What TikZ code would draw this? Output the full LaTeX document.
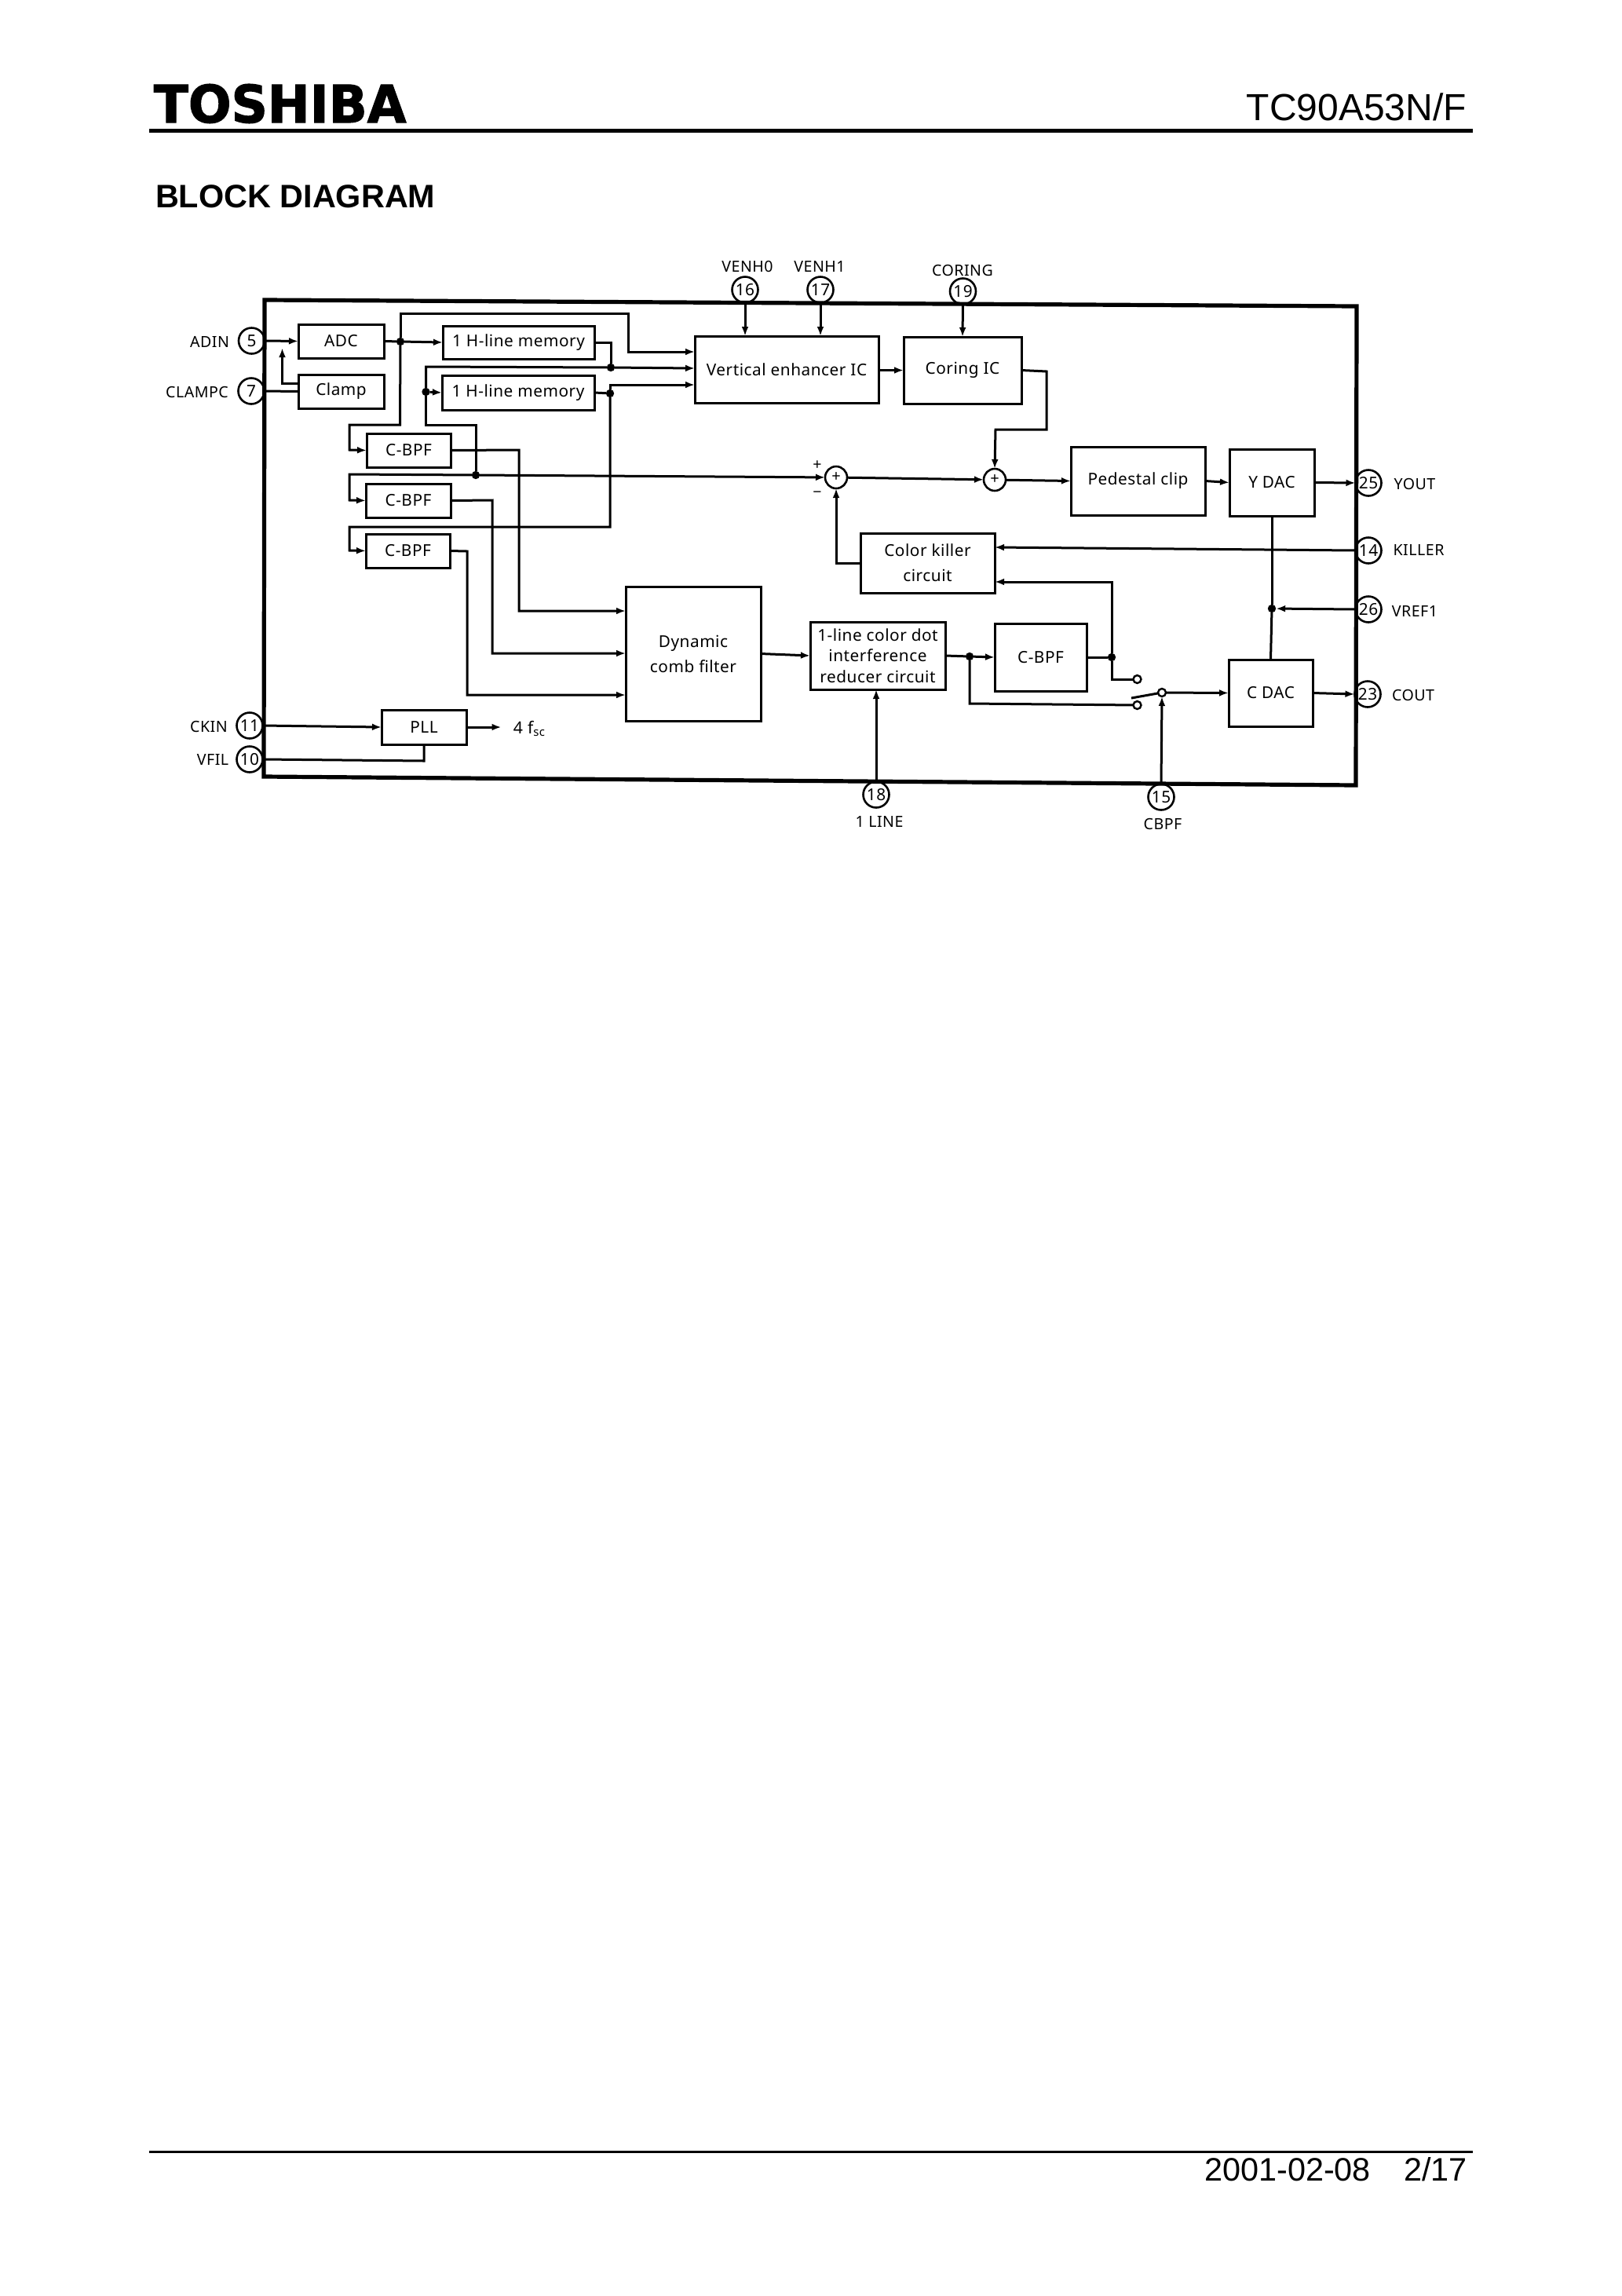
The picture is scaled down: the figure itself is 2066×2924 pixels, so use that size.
\documentclass[tikz,border=0pt]{standalone}
\usepackage{fontspec}
\usetikzlibrary{arrows.meta}
\setmainfont{Liberation Sans}
\newfontfamily\diagfont[LetterSpace=2.5]{Noto Sans}
\newfontfamily\logofont[FakeBold=1.8]{DejaVu Sans Bold}
\tikzset{
  sz/.style 2 args={minimum width=#1*0.5pt, minimum height=#2*0.5pt},
  blk/.style={draw, line width=1.5pt, inner sep=0pt, outer sep=0pt, align=center, font=\diagfont\fontsize{10.4}{16}\selectfont, fill=white},
  pinc/.style={circle, draw, line width=1.3pt, fill=white, inner sep=0pt, outer sep=0pt, minimum size=16.5pt, font=\diagfont\fontsize{10.4}{12}\selectfont},
  lab/.style={inner sep=0pt, font=\diagfont\fontsize{9.8}{12}\selectfont},
  jdot/.style={circle, fill=black, inner sep=0pt, outer sep=0pt, minimum size=5.2pt},
  opendot/.style={circle, draw, fill=white, line width=1.2pt, inner sep=0pt, outer sep=0pt, minimum size=5pt},
  sumc/.style={circle, draw, line width=1.3pt, fill=white, inner sep=0pt, outer sep=0pt, minimum size=14pt, font=\diagfont\fontsize{10}{10}\selectfont},
  arr/.style={-{Latex[length=6pt,width=4.4pt]}},
  hdr/.style={inner sep=0pt, outer sep=0pt}
}
\begin{document}
\begin{tikzpicture}[x=0.5pt, y=-0.5pt, line width=1.5pt, line join=miter]
\useasboundingbox (0,0) rectangle (2066,2924);
\fill[white] (0,0) rectangle (2066,2924);

% page header and footer
\node[hdr, anchor=base west, font=\logofont\fontsize{33}{33}\selectfont, xscale=0.975, transform shape] (logo) at (196,156) {TOSHIBA};
\node[hdr, anchor=base east, font=\fontsize{24}{24}\selectfont] (part) at (1868,153) {TC90A53N/F};
\node[hdr, anchor=base west, font=\bfseries\fontsize{20.7}{21}\selectfont] (title) at (198,264) {BLOCK DIAGRAM};
\node[hdr, anchor=base east, font=\fontsize{20.7}{21}\selectfont] (date) at (1746,2777) {2001-02-08};
\node[hdr, anchor=base east, font=\fontsize{20.7}{21}\selectfont] (page) at (1869,2777) {2/17};
\coordinate (rt1) at (190,166.5); \coordinate (rt2) at (1876,166.5);
\coordinate (rb1) at (190,2740); \coordinate (rb2) at (1876,2740);
\draw[line width=2.5pt] (rt1) -- (rt2);
\draw[line width=1.5pt] (rb1) -- (rb2);

% pins
\node[pinc] (p5)  at (320.5,434) {5};
\node[pinc] (p7)  at (320,498) {7};
\node[pinc] (p11) at (318,924) {11};
\node[pinc] (p10) at (318,967) {10};
\node[pinc] (p16) at (949,369) {16};
\node[pinc] (p17) at (1045,369) {17};
\node[pinc] (p19) at (1226.5,371) {19};
\node[pinc] (p25) at (1743,615) {25};
\node[pinc] (p14) at (1743,701) {14};
\node[pinc] (p26) at (1743,776) {26};
\node[pinc] (p23) at (1742,884) {23};
\node[pinc] (p18) at (1116,1012) {18};
\node[pinc] (p15) at (1479,1015) {15};

% outer frame
\coordinate (ftl) at (337,382);
\coordinate (ftr) at (1728,390);
\coordinate (fbr) at (1727,1000);
\coordinate (fbl) at (336,989);
\draw[line width=2.6pt, line join=miter] (ftl) -- (ftr) -- (fbr) -- (fbl) -- cycle;

% pin labels
\node[lab] (lADIN) at (267,435) {ADIN};
\node[lab] (lCLAMPC) at (251,499) {CLAMPC};
\node[lab] (lCKIN) at (266,925) {CKIN};
\node[lab] (lVFIL) at (271,967) {VFIL};
\node[lab] (lV0) at (952,339) {VENH0};
\node[lab] (lV1) at (1044,339) {VENH1};
\node[lab] (lCOR) at (1226,344) {CORING};
\node[lab] (lYOUT) at (1802,616) {YOUT};
\node[lab] (lKIL) at (1807,700) {KILLER};
\node[lab] (lVRF) at (1802,778) {VREF1};
\node[lab] (lCOUT) at (1800,885) {COUT};
\node[lab] (lCBPF) at (1481,1049) {CBPF};
\node[lab] (l1L) at (1120,1046) {1 LINE};

% blocks
\node[blk, sz={109}{43}] (adc) at (434.5,434.5) {ADC};
\node[blk, sz={109}{43}] (clamp) at (434.5,498.5) {Clamp};
\node[blk, sz={193}{42}] (mem1) at (660.5,436) {1 H-line memory};
\node[blk, sz={194}{44}] (mem2) at (660,500) {1 H-line memory};
\node[blk, sz={107}{43}] (bpf1) at (520.5,573.5) {C-BPF};
\node[blk, sz={108}{43}] (bpf2) at (520,637.5) {C-BPF};
\node[blk, sz={107}{43}] (bpf3) at (519.5,701.5) {C-BPF};
\node[blk, sz={234}{85}] (ve) at (1002,470.5) {Vertical enhancer IC};
\node[blk, sz={150}{85}] (cor) at (1226,471.5) {Coring IC};
\node[blk, sz={171}{87}] (ped) at (1449.5,612.5) {Pedestal clip};
\node[blk, sz={108}{85}] (ydac) at (1620,614.5) {Y DAC};
\node[blk, sz={171}{76}] (ck) at (1181.5,717) {Color killer\\circuit};
\node[blk, sz={172}{171}] (dyn) at (883,832.5) {Dynamic\\comb filter};
\node[blk, sz={172}{86}, font=\diagfont\fontsize{10.4}{13.25}\selectfont] (red) at (1118,835) {1-line color dot\\interference\\reducer circuit};
\node[blk, sz={117}{86}] (bpf4) at (1325.5,837) {C-BPF};
\node[blk, sz={107}{85}] (cdac) at (1618.5,882.5) {C DAC};
\node[blk, sz={108}{44}] (pll) at (540,926) {PLL};
\node[lab, font=\diagfont\fontsize{10.6}{12}\selectfont] (fsc) at (674.5,928) {4 f\textsubscript{sc}};

% summing points and marks
\node[sumc] (s1) at (1065,608) {+};
\node[sumc] (s2) at (1267,611) {+};
\node[lab] (splus) at (1041,593) {+};
\node[lab] (sminus) at (1041,630) {−};

% junctions
\node[jdot] (j1) at (510,435) {};
\node[jdot] (j2) at (778,468) {};
\node[jdot] (j3) at (542.5,499) {};
\node[jdot] (j4) at (606,605) {};
\node[jdot] (j5) at (777,501) {};
\node[jdot] (j6) at (1235,836) {};
\node[jdot] (j7) at (1416,837) {};
\node[jdot] (j8) at (1620,775) {};
\node[opendot] (c1) at (1448.5,865) {};
\node[opendot] (c2) at (1448.5,898) {};
\node[opendot] (sw) at (1480,882) {};

% named ends away from block centres
\coordinate (ve1) at (885,448);
\coordinate (ve2) at (885,469);
\coordinate (ve3) at (885,490);
\coordinate (ve16) at (949,428);
\coordinate (ve17) at (1045,428);
\coordinate (dy1) at (797,778);
\coordinate (dy2) at (797,832);
\coordinate (dy3) at (797,885);
\coordinate (ck1) at (1267,697);
\coordinate (ck2) at (1267,741);
\coordinate (ck3) at (1096,717);
\coordinate (red18) at (1116,878);
\coordinate (cl1) at (380,488);
\coordinate (cl2) at (359.5,443);
\coordinate (bl) at (1441,889);
\coordinate (pl2) at (540,948);
\coordinate (fo) at (638.5,926);

% inputs
\draw[arr] (p5.east) -- (adc.west);
\draw (p7.east) -- (clamp.west);
\draw[arr] (cl1) -- (359.5,488) -- (cl2);
\draw[arr] (p16.south) -- (ve16);
\draw[arr] (p17.south) -- (ve17);
\draw[arr] (p19.south) -- (cor.north);
\draw[arr] (p18.north) -- (red18);
\draw[arr] (p11.east) -- (pll.west);
\draw (p10.east) -- (540,969) -- (pl2);
\draw[arr] (pll.east) -- (fo);

% luminance path
\draw (adc.east) -- (j1);
\draw[arr] (j1) -- (mem1.west);
\draw[arr] (j1) -- (510,399) -- (800,399) -- (800,448) -- (ve1);
\draw[arr] (j1) -- (509.5,541) -- (445,541) -- (445,573) -- (bpf1.west);
\draw (mem1.east) -- (778,436) -- (j2);
\draw[arr] (j2) -- (ve2);
\draw (j2) -- (542.5,467) -- (j3);
\draw[arr] (j3) -- (mem2.west);
\draw (j3) -- (542.5,541) -- (606,541) -- (j4);
\draw[arr] (j4) -- (445,604) -- (445,637) -- (bpf2.west);
\draw[arr] (j4) -- (s1);
\draw (mem2.east) -- (j5);
\draw[arr] (j5) -- (777,490) -- (ve3);
\draw[arr] (j5) -- (777,671) -- (445,671) -- (445,701) -- (bpf3.west);
\draw[arr] (ve.east |- cor.west) -- (cor.west);
\draw[arr] (cor.east) -- (1333,473) -- (1333,547) -- (1268,547) -- (s2.north);
\draw[arr] (s1) -- (s2);
\draw[arr] (s2) -- (ped.west);
\draw[arr] (ped.east) -- (ydac.west);
\draw[arr] (ydac.east) -- (p25.west);

% chroma path
\draw[arr] (bpf1.east) -- (661,573) -- (661,778) -- (dy1);
\draw[arr] (bpf2.east) -- (627,637) -- (627,832) -- (dy2);
\draw[arr] (bpf3.east) -- (595,702) -- (595,885) -- (dy3);
\draw[arr] (dyn.east) -- (red.west);
\draw (red.east) -- (j6);
\draw[arr] (j6) -- (bpf4.west);
\draw (j6) -- (1235,896) -- (c2);
\draw (bpf4.east) -- (j7);
\draw[arr] (j7) -- (1416,741) -- (ck2);
\draw (j7) -- (1416,865) -- (c1);
\draw (sw) -- (bl);
\draw[arr] (sw) -- (cdac.west);
\draw[arr] (p15.north) -- (sw.south);
\draw[arr] (cdac.east) -- (p23.west);

% killer and reference
\draw[arr] (p14.west) -- (ck1);
\draw[arr] (ck3) -- (1065,717) -- (s1.south);
\draw[arr] (p26.west) -- (j8);
\draw (ydac.south) -- (j8);
\draw (j8) -- (cdac.north);
\end{tikzpicture}
\end{document}
